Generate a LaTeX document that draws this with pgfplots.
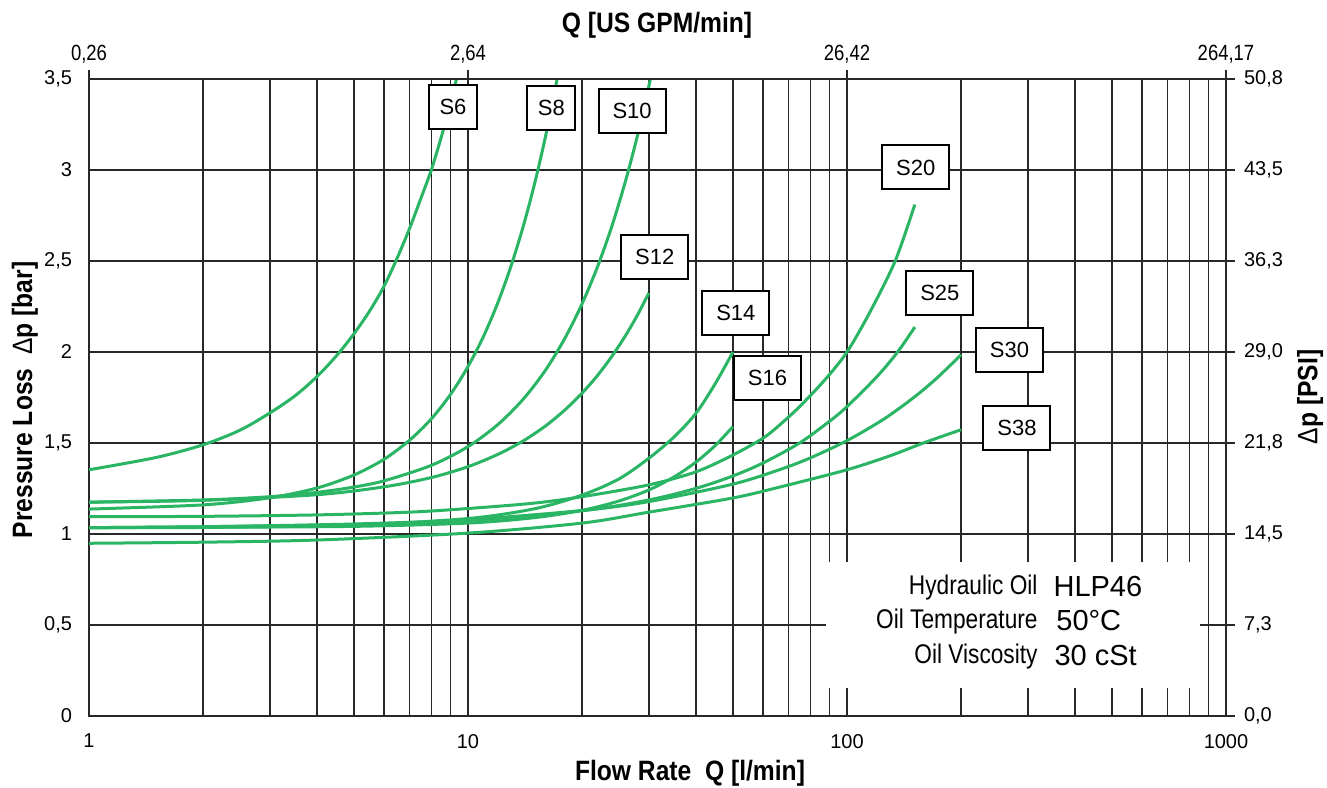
\documentclass[border=0pt]{standalone}
\usepackage{fontspec}
\setmainfont{Liberation Sans}
\newfontfamily\cond[FakeStretch=0.84]{Liberation Sans}
\newfontfamily\condt[FakeStretch=0.88]{Liberation Sans}
\usepackage{pgfplots}
\pgfplotsset{compat=1.18}
\definecolor{curve}{RGB}{41,181,99}
\definecolor{gridc}{RGB}{40,40,40}

\begin{document}
\begin{tikzpicture}
\useasboundingbox (-44.5pt,-35.5pt) rectangle (619pt,358pt);
\begin{axis}[
  at={(0,0)}, anchor=south west, scale only axis,
  width=568.5pt, height=318.5pt,
  xmode=log, xmin=1, xmax=1000, ymin=0, ymax=3.5,
  xtick={1,10,100,1000}, xticklabels={1,10,100,1000},
  ytick={0,0.5,1,1.5,2,2.5,3,3.5},
  yticklabels={0,{0,5},1,{1,5},2,{2,5},3,{3,5}},
  minor xtick={2,3,4,5,6,7,8,9,20,30,40,50,60,70,80,90,200,300,400,500,600,700,800,900},
  xmajorgrids, ymajorgrids, xminorgrids,
  major grid style={draw=gridc, line width=0.7pt},
  minor grid style={draw=gridc, line width=0.7pt},
  extra x ticks={10,100}, extra x tick labels={},
  extra x tick style={major grid style={draw=gridc, line width=1.3pt}},
  major tick length=0pt, minor tick length=0pt,
  axis line style={draw=gridc, line width=0.9pt},
  tick label style={font=\fontsize{10}{12}\selectfont},
  xticklabel style={yshift=-5.5pt},
  yticklabel style={xshift=-5pt},
]
\fill[white] (axis cs:88,0.154) rectangle (axis cs:854,0.846);

% S6
\addplot[curve, line width=1.5pt, smooth] coordinates {(1,1.353) (1.5,1.42) (2,1.49) (2.5,1.57) (3,1.665) (3.5,1.76) (4,1.866) (4.5,1.98) (5,2.10) (5.5,2.225) (6,2.36) (6.5,2.515) (7,2.675) (7.5,2.84) (8,3.0) (8.5,3.18) (9,3.37) (9.4,3.53)};
% S8
\addplot[curve, line width=1.5pt, smooth] coordinates {(1,1.137) (2,1.160) (3,1.199) (4,1.253) (5,1.324) (6,1.41) (7,1.514) (8,1.632) (9,1.768) (10,1.92) (11,2.088) (12,2.273) (13,2.475) (14,2.693) (15,2.928) (16,3.18) (17,3.449) (17.4,3.56)};
% S10
\addplot[curve, line width=1.5pt, smooth] coordinates {(1,1.175) (2,1.187) (3,1.205) (4,1.229) (5,1.258) (6,1.292) (8,1.377) (10,1.48) (12,1.602) (14,1.742) (16,1.899) (18,2.074) (20,2.265) (22,2.472) (24,2.695) (26,2.935) (28,3.189) (30,3.46) (31,3.60)};
% S12
\addplot[curve, line width=1.5pt, smooth] coordinates {(1,1.175) (2,1.185) (4,1.216) (6,1.259) (8,1.31) (10,1.37) (12,1.438) (14,1.512) (16,1.593) (18,1.681) (20,1.774) (22,1.873) (24,1.978) (26,2.088) (28,2.203) (30,2.324)};
% S14
\addplot[curve, line width=1.5pt, smooth] coordinates {(1,1.035) (2,1.036) (5,1.049) (10,1.085) (15,1.139) (20,1.214) (25,1.302) (30,1.416) (35,1.534) (40,1.665) (45,1.829) (50,2.0)};
% S16
\addplot[curve, line width=1.5pt, smooth] coordinates {(1,1.035) (2,1.037) (5,1.042) (10,1.06) (15,1.09) (20,1.13) (25,1.181) (30,1.242) (35,1.314) (40,1.396) (45,1.488) (50,1.59)};
% S20
\addplot[curve, line width=1.5pt, smooth] coordinates {(1,1.095) (2,1.097) (4,1.105) (7,1.12) (10,1.14) (15,1.17) (20,1.205) (30,1.27) (40,1.342) (50,1.434) (60,1.526) (66.5,1.6) (75,1.70) (87.5,1.848) (100,2.0) (115,2.22) (134,2.5) (151,2.81)};
% S25
\addplot[curve, line width=1.5pt, smooth] coordinates {(1,1.035) (2,1.04) (5,1.052) (10,1.074) (20,1.128) (30,1.187) (40,1.251) (50,1.319) (60,1.39) (75,1.50) (90,1.62) (100,1.70) (120,1.865) (136,2.0) (151,2.137)};
% S30
\addplot[curve, line width=1.5pt, smooth] coordinates {(1,1.035) (2,1.04) (5,1.055) (10,1.079) (20,1.129) (30,1.178) (50,1.274) (66.5,1.354) (80,1.418) (100,1.513) (125,1.631) (150,1.75) (172.5,1.856) (200,1.985)};
% S38
\addplot[curve, line width=1.5pt, smooth] coordinates {(1,0.949) (2,0.955) (4,0.967) (10,1.005) (20,1.06) (30,1.12) (50,1.198) (66.5,1.258) (100,1.353) (130,1.43) (159,1.5) (200,1.573)};

\tikzset{lbl/.style={draw=black, fill=white, line width=1pt, minimum height=22pt, inner sep=0pt, font=\fontsize{11}{13}\selectfont}}
\node[lbl, minimum width=24pt] at (axis cs:9.13,3.346) {S6};
\node[lbl, minimum width=24pt] at (axis cs:16.6,3.34) {S8};
\node[lbl, minimum width=33.5pt] at (axis cs:27.1,3.326) {S10};
\node[lbl, minimum width=33.5pt] at (axis cs:31.1,2.523) {S12};
\node[lbl, minimum width=33.5pt] at (axis cs:50.9,2.217) {S14};
\node[lbl, minimum width=33.5pt] at (axis cs:61.7,1.858) {S16};
\node[lbl, minimum width=33.5pt] at (axis cs:151.9,3.014) {S20};
\node[lbl, minimum width=33.5pt] at (axis cs:175.8,2.322) {S25};
\node[lbl, minimum width=33.5pt] at (axis cs:268.5,2.009) {S30};
\node[lbl, minimum width=33.5pt] at (axis cs:280.9,1.585) {S38};

\tikzset{infol/.style={anchor=east, inner sep=0pt, font=\cond\fontsize{13.5}{15}\selectfont},
         infov/.style={anchor=west, inner sep=0pt, font=\fontsize{14.5}{16}\selectfont}}
\node[infol] at (axis cs:319,0.706) {Hydraulic Oil};
\node[infol] at (axis cs:319,0.519) {Oil Temperature};
\node[infol] at (axis cs:319,0.327) {Oil Viscosity};
\node[infov] at (axis cs:350,0.710) {HLP46};
\node[infov] at (axis cs:356,0.523) {50°C};
\node[infov] at (axis cs:352,0.331) {30 cSt};
\end{axis}

\begin{axis}[
  at={(0,0)}, anchor=south west, scale only axis,
  width=568.5pt, height=318.5pt,
  xmode=log, xmin=1, xmax=1000, ymin=0, ymax=3.5,
  axis x line*=top, axis y line*=right,
  xtick={1,10,100,1000}, xticklabels={{0,26},{2,64},{26,42},{264,17}},
  ytick={0,0.5,1,1.5,2,2.5,3,3.5},
  yticklabels={{0,0},{7,3},{14,5},{21,8},{29,0},{36,3},{43,5},{50,8}},
  xminorticks=false,
  tick align=outside, major tick length=4.5pt,
  tick style={draw=gridc, line width=0.7pt},
  axis line style={draw=gridc, line width=0.9pt},
  tick label style={font=\fontsize{10}{12}\selectfont},
  xticklabel style={font=\cond\fontsize{11}{12}\selectfont},
  yticklabel style={xshift=1pt},
]
\end{axis}

\node[font=\condt\bfseries\fontsize{14}{16}\selectfont] at (284pt,345.5pt) {Q [US GPM/min]};
\node[font=\condt\bfseries\fontsize{14}{16}\selectfont] at (300.5pt,-28.5pt) {Flow Rate\ \ Q [l/min]};
\node[rotate=90, font=\condt\bfseries\fontsize{14}{16}\selectfont] at (-32pt,158pt) {Pressure Loss\ \ {\mdseries Δ}p [bar]};
\node[rotate=90, font=\condt\bfseries\fontsize{14}{16}\selectfont] at (610.5pt,159.5pt) {{\mdseries Δ}p [PSI]};
\end{tikzpicture}
\end{document}
